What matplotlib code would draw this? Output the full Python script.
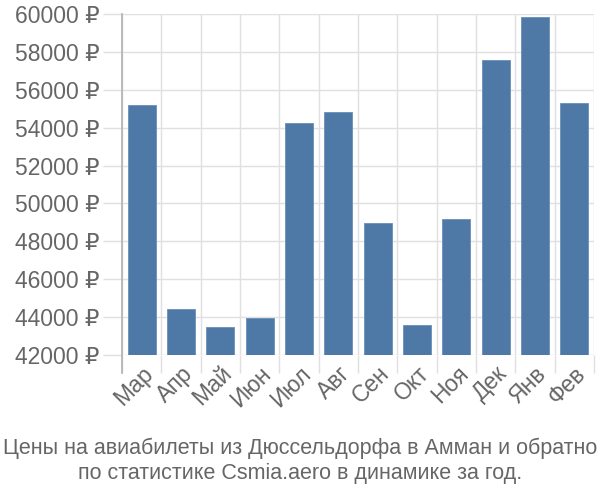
import matplotlib
matplotlib.use('Agg')
import matplotlib.pyplot as plt
import numpy as np
from matplotlib.ticker import FixedLocator, FuncFormatter

plt.rcParams['font.family'] = ['Liberation Sans', 'DejaVu Sans']

months = ['Мар', 'Апр', 'Май', 'Июн', 'Июл', 'Авг', 'Сен', 'Окт', 'Ноя', 'Дек', 'Янв', 'Фев']
prices = [55200, 44430, 43480, 43950, 54250, 54830, 48970, 43580, 49180, 57580, 59850, 55300]
y_ticks = list(range(42000, 60001, 2000))
title = 'Цены на авиабилеты из Дюссельдорфа в Амман и обратно\nпо статистике Csmia.aero в динамике за год.'

bar_color = '#4e79a7'
grid_color = '#e0e0e0'
text_color = '#666666'

fig = plt.figure(figsize=(6, 5), dpi=100)
ax = fig.add_axes([122 / 600, 1 - 355 / 500, 472 / 600, 341 / 500])

x = np.arange(len(months))
base = y_ticks[0]
ax.bar(x, [p - base for p in prices], bottom=base, width=0.72,
       color=bar_color, edgecolor='#6a8fb8', linewidth=0.6, zorder=3)

ax.set_xlim(-0.5, len(months) - 0.5)
ax.set_ylim(y_ticks[0], y_ticks[-1])

ax.set_yticks(y_ticks)
ax.yaxis.set_major_formatter(FuncFormatter(lambda v, p: f'{int(v)} ₽'))
ax.set_xticks(x)
ax.set_xticklabels(months, rotation=45, ha='right', va='top', rotation_mode='anchor')
ax.xaxis.set_minor_locator(FixedLocator(np.arange(-0.5, len(months), 1)))

ax.tick_params(axis='y', which='major', length=14, width=1, color=grid_color,
               labelsize=16.5, labelcolor=text_color, pad=2)
ax.tick_params(axis='x', which='major', length=0, labelsize=16.5,
               labelcolor=text_color, pad=5)
ax.tick_params(axis='x', which='minor', length=13, width=1, color=grid_color)

ax.grid(True, axis='y', which='major', color=grid_color, linewidth=1, zorder=0)
ax.grid(True, axis='x', which='minor', color=grid_color, linewidth=1, zorder=0)

for s in ['top', 'right', 'bottom']:
    ax.spines[s].set_visible(False)
ax.spines['left'].set_visible(False)
# left axis line runs down past the chart area like the tick marks
ax.axvline(-0.5, ymin=-18 / 341, ymax=1, color='#b0b0b0', linewidth=1.2,
           clip_on=False, zorder=4)

fig.text(0.5, 0.078, title, ha='center', va='center', fontsize=15.5,
         color=text_color, linespacing=1.25)

fig.savefig('out.png', dpi=100)
